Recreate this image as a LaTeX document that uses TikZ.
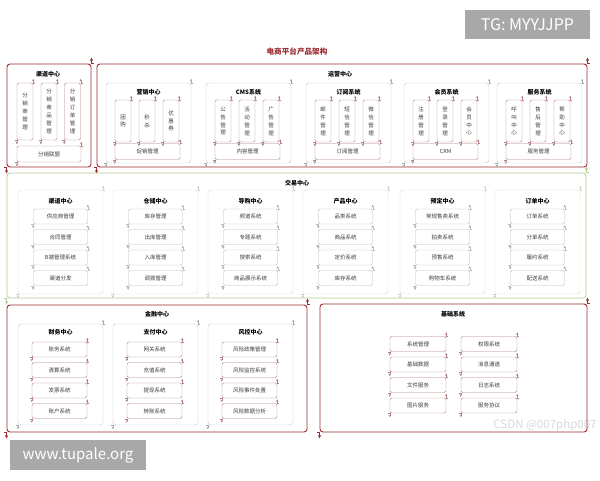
\documentclass[tikz,border=0pt]{standalone}
\usepackage{fontspec}
\setmainfont{Noto Sans CJK SC}
\usepackage{tikz}
\usetikzlibrary{arrows.meta}

\definecolor{framered}{RGB}{155,45,50}
\definecolor{boxred}{RGB}{178,128,133}
\definecolor{boxgray}{RGB}{185,190,180}
\definecolor{framegreen}{RGB}{180,204,145}
\definecolor{dashgray}{RGB}{165,165,165}
\definecolor{textgray}{RGB}{60,60,60}
\definecolor{markgray}{RGB}{168,168,168}

\begin{document}
\begin{tikzpicture}[x=1pt, y=-1pt,
  corner/.style n args={3}{append after command={\pgfextra{\let\crnnode\tikzlastnode}
      (\crnnode.north east) edge[draw=#1, line width=#2, -{Stealth[length=1.6pt 2, width=1.4pt 2]}] ++(0,-#3)
      (\crnnode.north east) edge[draw=#1, line width=#2] ++(#3/2,0)
      (\crnnode.south west) edge[draw=#1, line width=#2, -{Stealth[length=1.6pt 2, width=1.4pt 2]}] ++(0,#3)
      (\crnnode.south west) edge[draw=#1, line width=#2] ++(-#3/2,0)}},
  frame/.style={draw=framered, line width=0.9pt, rounded corners=3pt, inner sep=0, corner={framered}{0.9pt}{6}},
  gframe/.style={draw=framegreen, line width=0.8pt, rounded corners=3pt, inner sep=0, corner={framegreen}{0.8pt}{6}},
  group/.style={draw=dashgray, line width=0.4pt, dash pattern=on 1.2pt off 0.8pt, rounded corners=3pt,
                minimum width=85, inner sep=0, corner={dashgray}{0.4pt}{4}},
  tgroup/.style={draw=gray!30, line width=0.4pt, rounded corners=3pt,
                minimum width=85, minimum height=104, inner sep=0, corner={gray!40}{0.4pt}{4}},
  title/.style={font=\fontsize{6}{7}\selectfont\bfseries, text=black},
  vbox/.style={draw=boxred, line width=0.45pt, rounded corners=1.5pt, minimum width=16, minimum height=42,
               inner sep=0, align=center, text=textgray, font=\fontsize{5.5}{7.9}\selectfont,
               corner={boxred}{0.45pt}{4}},
  hbox/.style={draw=boxred, line width=0.45pt, rounded corners=1.5pt, minimum width=65, minimum height=16,
               inner sep=0, text=textgray, font=\fontsize{5.5}{7}\selectfont, corner={boxred}{0.45pt}{4}},
  tbox/.style={hbox, draw=boxgray, minimum width=54, minimum height=15, corner={boxgray}{0.45pt}{4}},
  fbox/.style={hbox, minimum width=55, minimum height=15},
  wmark/.style={fill=markgray, text=white, inner sep=0, minimum height=29}]

\fill[white] (0,0) rectangle (600,480);
\useasboundingbox (0,0) rectangle (600,480);

% watermarks
\node[wmark, minimum width=125, font=\fontsize{16}{18}\selectfont] (tg) at (527.5,24.5) {TG: MYYJJPP};
\node[wmark, minimum width=136, minimum height=30, font=\fontsize{15}{17}\selectfont] (site) at (78,455) {www.tupale.org};
\node[text=gray!30, font=\fontsize{11.5}{13}\selectfont, inner sep=0] (csdn) at (545,425) {CSDN @007php007};

% title
\node[text=framered, font=\fontsize{7.6}{9}\selectfont\bfseries] (head) at (297,52) {电商平台产品架构};

% channel center
\node[frame, minimum width=84, minimum height=103] (qudao) at (49,115.5) {};
\node[title] (qudao-t) at (48,74) {渠道中心};
\node[vbox, minimum height=57] (fxs) at (25,111.5) {分\\销\\商\\管\\理};
\node[vbox, minimum height=57] (fxsp) at (49,111.5) {分\\销\\商\\品\\管\\理};
\node[vbox, minimum height=57] (fxdd) at (72.5,111.5) {分\\销\\订\\单\\管\\理};
\node[hbox, minimum width=64] (fxlm) at (49,154) {分销联盟};

% operation center
\node[frame, minimum width=490, minimum height=103] (yunying) at (342,115.5) {};
\node[title] (yunying-t) at (340,74) {运营中心};

\node[group, minimum height=80] (yx) at (106+42.5,123) {};
\node[title] (yx-t) at (106+42.5,92) {营销中心};
\node[vbox] (tg1) at (106+17,121) {团\\购};
\node[vbox] (ms) at (106+41,121) {秒\\杀};
\node[vbox] (yhq) at (106+65,121) {优\\惠\\券};
\node[hbox] (cx) at (106+41.5,151.5) {促销管理};

\node[group, minimum height=80] (cms) at (206+42.5,123) {};
\node[title] (cms-t) at (206+42.5,92) {CMS系统};
\node[vbox] (gg) at (206+17,121) {公\\告\\管\\理};
\node[vbox] (hd) at (206+41,121) {活\\动\\管\\理};
\node[vbox] (ad) at (206+65,121) {广\\告\\管\\理};
\node[hbox] (nr) at (206+41.5,151.5) {内容管理};

\node[group, minimum height=80] (dy) at (306+42.5,123) {};
\node[title] (dy-t) at (306+42.5,92) {订阅系统};
\node[vbox] (yj) at (306+17,121) {邮\\件\\管\\理};
\node[vbox] (dx) at (306+41,121) {短\\信\\管\\理};
\node[vbox] (wx) at (306+65,121) {微\\信\\管\\理};
\node[hbox] (dygl) at (306+41.5,151.5) {订阅管理};

\node[group, minimum height=80] (hy) at (404+42.5,123) {};
\node[title] (hy-t) at (404+42.5,92) {会员系统};
\node[vbox] (zc) at (404+17,121) {注\\册\\管\\理};
\node[vbox] (dl) at (404+41,121) {登\\录\\管\\理};
\node[vbox] (hyzx) at (404+65,121) {会\\员\\中\\心};
\node[hbox] (crm) at (404+41.5,151.5) {CRM};

\node[group, minimum height=80] (fw) at (497+42.5,123) {};
\node[title] (fw-t) at (497+42.5,92) {服务系统};
\node[vbox] (hj) at (497+17,121) {呼\\叫\\中\\心};
\node[vbox] (sh) at (497+41,121) {售\\后\\管\\理};
\node[vbox] (bz) at (497+65,121) {帮\\助\\中\\心};
\node[hbox] (fwgl) at (497+41.5,151.5) {服务管理};

% trade center
\node[gframe, minimum width=579, minimum height=125] (jiaoyi) at (296.5,235.5) {};
\node[title] (jiaoyi-t) at (297,183) {交易中心};

\node[tgroup] (qd2) at (18+42.5,242) {};
\node[title] (qd2-t) at (18+42.5,201) {渠道中心};
\node[tbox] (gys) at (18+42.5,216.5) {供应商管理};
\node[tbox] (ht) at (18+42.5,237) {合同管理};
\node[tbox] (bd) at (18+42.5,257.5) {B端管理系统};
\node[tbox] (qdff) at (18+42.5,278) {渠道分发};

\node[tgroup] (cc) at (113+42.5,242) {};
\node[title] (cc-t) at (113+42.5,201) {仓储中心};
\node[tbox] (kc) at (113+42.5,216.5) {库存管理};
\node[tbox] (ck) at (113+42.5,237) {出库管理};
\node[tbox] (rk) at (113+42.5,257.5) {入库管理};
\node[tbox] (db) at (113+42.5,278) {调拨管理};

\node[tgroup] (dg) at (208+42.5,242) {};
\node[title] (dg-t) at (208+42.5,201) {导购中心};
\node[tbox] (pd) at (208+42.5,216.5) {频道系统};
\node[tbox] (zt) at (208+42.5,237) {专题系统};
\node[tbox] (ss) at (208+42.5,257.5) {搜索系统};
\node[tbox] (zs) at (208+42.5,278) {商品展示系统};

\node[tgroup] (cp) at (303+42.5,242) {};
\node[title] (cp-t) at (303+42.5,201) {产品中心};
\node[tbox] (pl) at (303+42.5,216.5) {品类系统};
\node[tbox] (sp) at (303+42.5,237) {商品系统};
\node[tbox] (dj) at (303+42.5,257.5) {定价系统};
\node[tbox] (kcxt) at (303+42.5,278) {库存系统};

\node[tgroup] (yd) at (400+42.5,242) {};
\node[title] (yd-t) at (400+42.5,201) {预定中心};
\node[tbox] (cg) at (400+42.5,216.5) {常规售卖系统};
\node[tbox] (pm) at (400+42.5,237) {拍卖系统};
\node[tbox] (ys) at (400+42.5,257.5) {预售系统};
\node[tbox] (gwc) at (400+42.5,278) {购物车系统};

\node[tgroup] (dd) at (495+42.5,242) {};
\node[title] (dd-t) at (495+42.5,201) {订单中心};
\node[tbox] (ddxt) at (495+42.5,216.5) {订单系统};
\node[tbox] (fd) at (495+42.5,237) {分单系统};
\node[tbox] (ly) at (495+42.5,257.5) {履约系统};
\node[tbox] (ps) at (495+42.5,278) {配送系统};

% finance center
\node[frame, minimum width=300, minimum height=127] (jinrong) at (157,368.5) {};
\node[title] (jinrong-t) at (157,314) {金融中心};

\node[group, minimum height=101] (cw) at (18+42.5,374.5) {};
\node[title] (cw-t) at (18+42.5,332) {财务中心};
\node[fbox] (zw) at (18+41.5,349.5) {账务系统};
\node[fbox] (qs) at (18+41.5,370) {清算系统};
\node[fbox] (fp) at (18+41.5,390.5) {发票系统};
\node[fbox] (zh) at (18+41.5,411) {账户系统};

\node[group, minimum height=101] (zf) at (113+42.5,374.5) {};
\node[title] (zf-t) at (113+42.5,332) {支付中心};
\node[fbox] (wg) at (113+41.5,349.5) {网关系统};
\node[fbox] (cz) at (113+41.5,370) {充值系统};
\node[fbox] (tx) at (113+41.5,390.5) {提现系统};
\node[fbox] (zz) at (113+41.5,411) {转账系统};

\node[group, minimum height=101] (fk) at (208+42.5,374.5) {};
\node[title] (fk-t) at (208+42.5,332) {风控中心};
\node[fbox] (zc2) at (208+41.5,349.5) {风险政策管理};
\node[fbox] (jk) at (208+41.5,370) {风险监控系统};
\node[fbox] (sj) at (208+41.5,390.5) {风险事件处置};
\node[fbox] (fx) at (208+41.5,411) {风险数据分析};

% base systems
\node[frame, minimum width=267, minimum height=128] (jichu) at (453.5,368) {};
\node[title] (jichu-t) at (453,314) {基础系统};
\node[fbox, minimum width=56] (xtgl) at (418,344) {系统管理};
\node[fbox, minimum width=56] (qx) at (489,344) {权限系统};
\node[fbox, minimum width=56] (jcsj) at (418,364.5) {基础数据};
\node[fbox, minimum width=56] (xx) at (489,364.5) {消息通道};
\node[fbox, minimum width=56] (wj) at (418,385) {文件服务};
\node[fbox, minimum width=56] (rz) at (489,385) {日志系统};
\node[fbox, minimum width=56] (tp) at (418,405.5) {图片服务};
\node[fbox, minimum width=56] (xy) at (489,405.5) {服务协议};
\end{tikzpicture}
\end{document}
